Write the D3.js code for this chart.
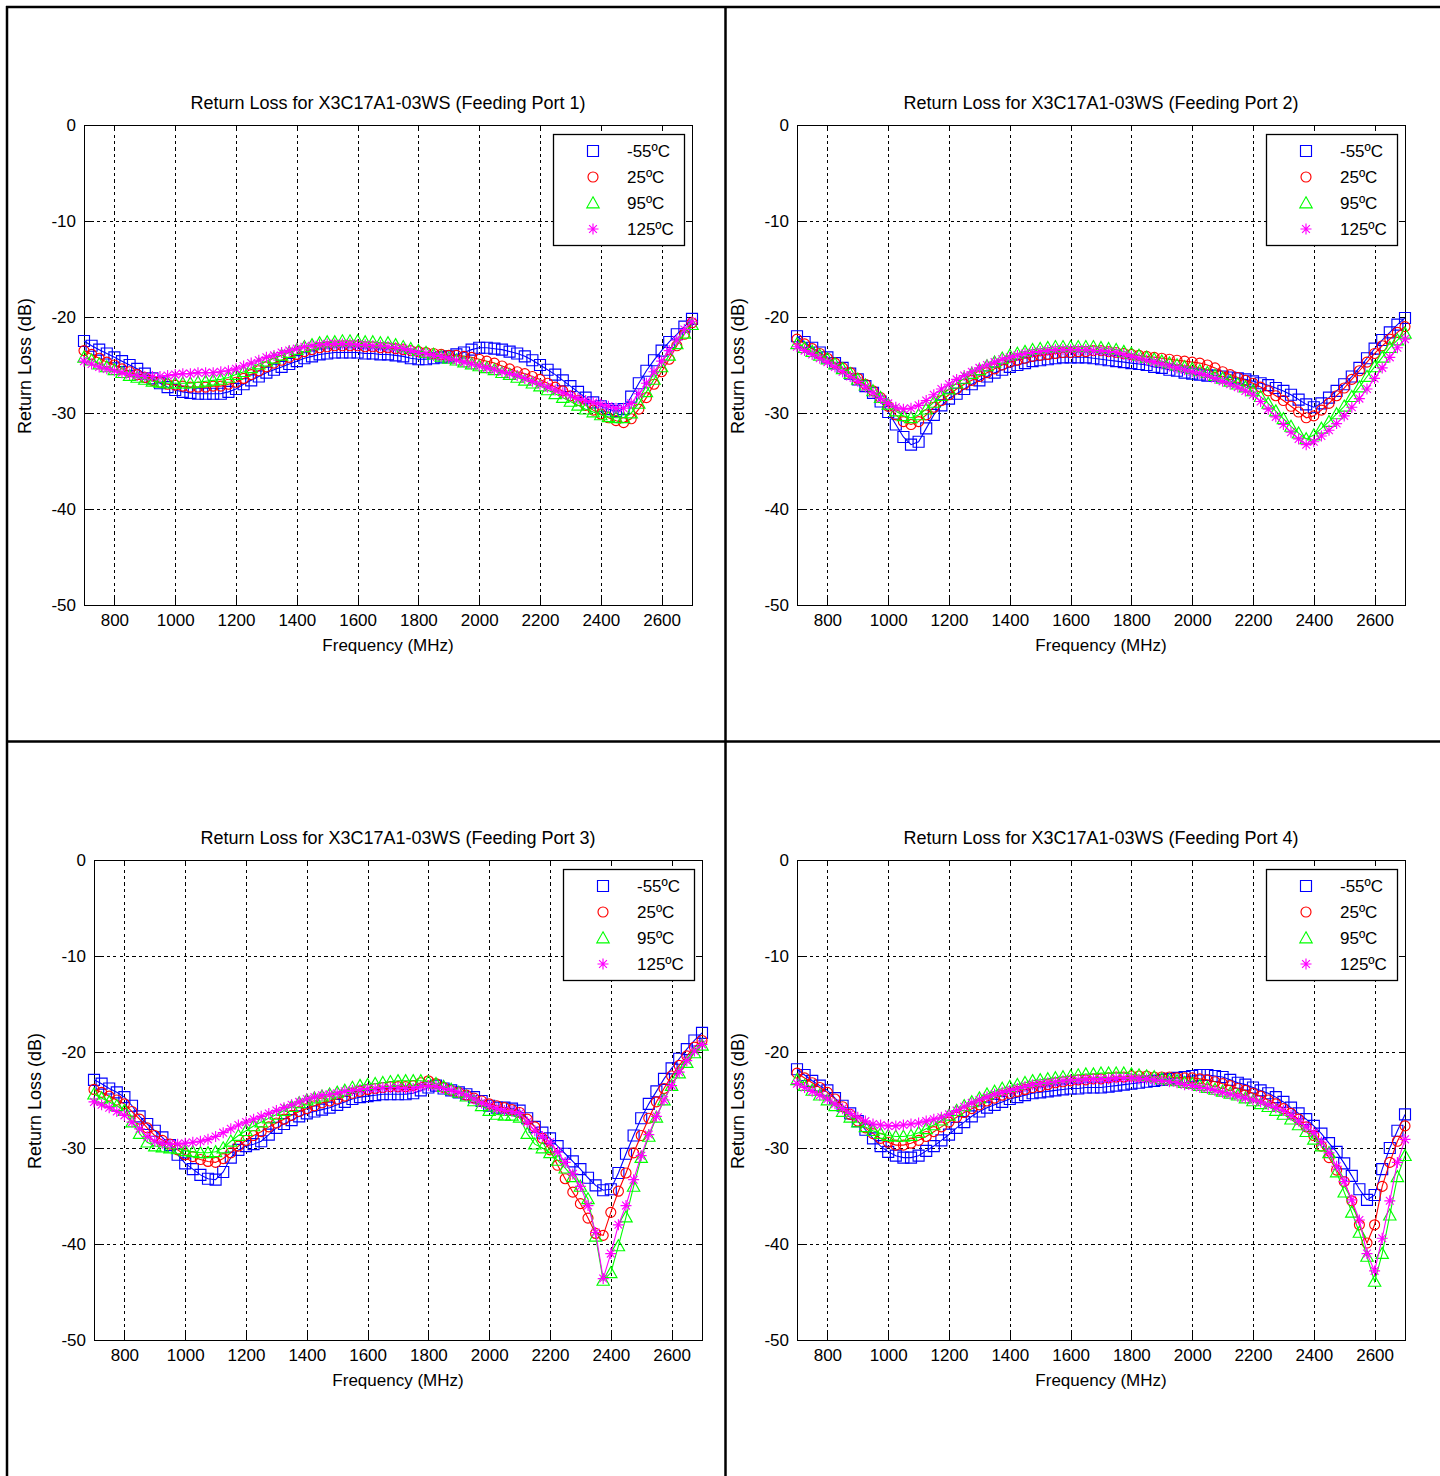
<!DOCTYPE html>
<html>
<head>
<meta charset="utf-8">
<script src="https://cdn.jsdelivr.net/npm/d3@7"></script>
<style>
  html, body { margin: 0; padding: 0; background: #fff; }
  svg { display: block; }
  text { font-family: "Liberation Sans", Arial, sans-serif; fill: #000; }
</style>
</head>
<body>
<svg id="chart" width="1440" height="1476"></svg>
<script>
// ---------------- DATA ----------------
const freqs = d3.range(700, 2701, 25); // MHz, 81 points
const xTicks = [800, 1000, 1200, 1400, 1600, 1800, 2000, 2200, 2400, 2600];
const yTicks = [0, -10, -20, -30, -40, -50];
const legendLabels = ["-55ºC", "25ºC", "95ºC", "125ºC"];
const panelTitles = [
  "Return Loss for X3C17A1-03WS (Feeding Port 1)",
  "Return Loss for X3C17A1-03WS (Feeding Port 2)",
  "Return Loss for X3C17A1-03WS (Feeding Port 3)",
  "Return Loss for X3C17A1-03WS (Feeding Port 4)"
];
const xTitle = "Frequency (MHz)";
const yTitle = "Return Loss (dB)";

// Port 1
const port1_m55 = [
 -22.5,-23.0,-23.4,-23.8,-24.2,-24.6,-25.0,-25.4,-25.9,-26.4,
 -26.9,-27.3,-27.6,-27.8,-27.9,-28.0,-28.0,-28.0,-28.0,-27.8,
 -27.5,-27.0,-26.6,-26.2,-25.8,-25.5,-25.2,-24.9,-24.6,-24.3,
 -24.1,-23.9,-23.8,-23.7,-23.7,-23.7,-23.7,-23.8,-23.8,-23.9,
 -23.9,-24.0,-24.1,-24.3,-24.4,-24.4,-24.3,-24.2,-24.1,-23.9,
 -23.7,-23.4,-23.2,-23.2,-23.3,-23.4,-23.6,-23.8,-24.1,-24.5,
 -25.0,-25.5,-26.0,-26.6,-27.2,-27.8,-28.4,-28.9,-29.3,-29.6,
 -29.8,-29.6,-28.3,-26.9,-25.6,-24.5,-23.5,-22.6,-21.8,-21.0,
 -20.2];
const port1_p25 = [
 -23.5,-23.9,-24.3,-24.7,-25.0,-25.4,-25.7,-26.0,-26.3,-26.6,
 -26.8,-27.0,-27.1,-27.2,-27.3,-27.3,-27.3,-27.2,-27.2,-27.0,
 -26.8,-26.4,-26.0,-25.6,-25.2,-24.8,-24.5,-24.2,-23.9,-23.6,
 -23.4,-23.2,-23.1,-23.0,-23.0,-23.0,-23.0,-23.1,-23.1,-23.2,
 -23.2,-23.3,-23.4,-23.5,-23.6,-23.7,-23.8,-23.9,-24.0,-24.0,
 -24.1,-24.2,-24.4,-24.6,-24.8,-25.1,-25.4,-25.7,-25.9,-26.2,
 -26.5,-26.9,-27.3,-27.7,-28.2,-28.7,-29.2,-29.7,-30.1,-30.5,
 -30.8,-31.0,-30.6,-29.6,-28.4,-27.0,-25.7,-24.4,-23.0,-21.8,
 -20.6];
const port1_p95 = [
 -24.2,-24.5,-24.9,-25.2,-25.5,-25.8,-26.1,-26.3,-26.5,-26.7,
 -26.8,-26.9,-26.9,-26.9,-26.9,-26.8,-26.7,-26.6,-26.5,-26.3,
 -26.0,-25.7,-25.3,-24.9,-24.6,-24.3,-24.0,-23.7,-23.4,-23.1,
 -22.9,-22.7,-22.6,-22.6,-22.5,-22.5,-22.5,-22.6,-22.6,-22.7,
 -22.7,-22.9,-23.1,-23.3,-23.5,-23.7,-23.9,-24.1,-24.3,-24.5,
 -24.7,-24.9,-25.1,-25.3,-25.5,-25.8,-26.0,-26.3,-26.6,-26.9,
 -27.2,-27.6,-28.0,-28.4,-28.8,-29.2,-29.6,-29.9,-30.2,-30.4,
 -30.5,-30.5,-30.0,-29.0,-27.8,-26.5,-25.2,-24.0,-22.8,-21.7,
 -20.8];
const port1_p125 = [
 -24.6,-24.9,-25.2,-25.4,-25.6,-25.8,-26.0,-26.1,-26.2,-26.2,
 -26.2,-26.1,-26.0,-25.9,-25.9,-25.8,-25.8,-25.8,-25.7,-25.6,
 -25.4,-25.1,-24.8,-24.5,-24.2,-24.0,-23.7,-23.5,-23.3,-23.1,
 -23.0,-22.9,-22.8,-22.8,-22.8,-22.8,-22.9,-22.9,-23.0,-23.0,
 -23.1,-23.2,-23.3,-23.5,-23.7,-23.8,-24.0,-24.1,-24.3,-24.5,
 -24.7,-24.9,-25.1,-25.3,-25.5,-25.7,-25.9,-26.1,-26.4,-26.7,
 -27.0,-27.3,-27.6,-27.9,-28.2,-28.5,-28.7,-28.9,-29.1,-29.3,
 -29.5,-29.5,-29.0,-28.0,-26.9,-25.7,-24.6,-23.5,-22.4,-21.3,
 -20.5];

// Port 2
const port2_m55 = [
 -22.0,-22.6,-23.2,-23.7,-24.2,-24.8,-25.3,-25.9,-26.5,-27.2,
 -27.9,-28.8,-29.9,-31.2,-32.5,-33.3,-33.0,-31.6,-30.2,-29.2,
 -28.5,-28.0,-27.5,-27.0,-26.6,-26.2,-25.8,-25.5,-25.2,-25.0,
 -24.8,-24.6,-24.5,-24.4,-24.3,-24.2,-24.2,-24.2,-24.2,-24.3,
 -24.4,-24.5,-24.6,-24.7,-24.8,-24.9,-25.0,-25.2,-25.3,-25.5,
 -25.6,-25.8,-25.9,-26.0,-26.1,-26.1,-26.2,-26.3,-26.4,-26.5,
 -26.7,-26.9,-27.1,-27.4,-27.7,-28.1,-28.6,-29.1,-29.4,-29.0,
 -28.4,-27.7,-27.0,-26.2,-25.3,-24.3,-23.3,-22.4,-21.6,-20.8,
 -20.1];
const port2_p25 = [
 -22.3,-22.8,-23.3,-23.8,-24.3,-24.8,-25.3,-25.8,-26.4,-27.0,
 -27.7,-28.4,-29.3,-30.2,-30.9,-31.2,-30.9,-30.2,-29.4,-28.7,
 -28.1,-27.5,-27.0,-26.6,-26.2,-25.8,-25.4,-25.0,-24.7,-24.5,
 -24.3,-24.1,-24.0,-23.9,-23.8,-23.7,-23.7,-23.6,-23.6,-23.5,
 -23.5,-23.6,-23.7,-23.8,-23.9,-24.0,-24.1,-24.2,-24.3,-24.4,
 -24.5,-24.6,-24.7,-24.8,-25.0,-25.3,-25.7,-26.0,-26.3,-26.6,
 -26.9,-27.3,-27.7,-28.2,-28.7,-29.3,-29.9,-30.5,-30.3,-29.7,
 -29.0,-28.2,-27.4,-26.5,-25.6,-24.7,-23.8,-23.0,-22.3,-21.6,
 -21.0];
const port2_p95 = [
 -22.8,-23.2,-23.6,-24.0,-24.4,-24.9,-25.4,-25.9,-26.5,-27.1,
 -27.7,-28.4,-29.1,-29.8,-30.3,-30.5,-30.2,-29.6,-28.9,-28.2,
 -27.5,-26.9,-26.4,-25.9,-25.5,-25.1,-24.7,-24.3,-24.0,-23.8,
 -23.6,-23.4,-23.3,-23.2,-23.1,-23.1,-23.1,-23.1,-23.1,-23.1,
 -23.2,-23.3,-23.4,-23.6,-23.8,-24.0,-24.2,-24.4,-24.6,-24.8,
 -25.0,-25.2,-25.4,-25.6,-25.8,-26.1,-26.4,-26.7,-27.0,-27.3,
 -27.7,-28.3,-29.0,-29.8,-30.6,-31.4,-32.1,-32.7,-32.3,-31.6,
 -30.9,-30.1,-29.3,-28.3,-27.3,-26.2,-25.2,-24.2,-23.2,-22.4,
 -21.7];
const port2_p125 = [
 -23.1,-23.5,-23.9,-24.3,-24.7,-25.2,-25.7,-26.2,-26.7,-27.3,
 -27.9,-28.5,-29.0,-29.4,-29.6,-29.5,-29.2,-28.7,-28.1,-27.5,
 -27.0,-26.5,-26.1,-25.7,-25.3,-25.0,-24.7,-24.4,-24.2,-24.0,
 -23.8,-23.7,-23.6,-23.5,-23.4,-23.4,-23.4,-23.4,-23.4,-23.5,
 -23.5,-23.6,-23.7,-23.9,-24.1,-24.3,-24.5,-24.7,-24.9,-25.1,
 -25.3,-25.5,-25.7,-25.9,-26.1,-26.4,-26.7,-27.0,-27.3,-27.7,
 -28.1,-28.8,-29.6,-30.4,-31.2,-32.0,-32.7,-33.3,-33.0,-32.4,
 -31.8,-31.1,-30.3,-29.4,-28.5,-27.5,-26.4,-25.3,-24.2,-23.2,
 -22.3];

// Port 3
const port3_m55 = [
 -22.9,-23.3,-23.8,-24.2,-24.7,-25.6,-26.7,-27.5,-28.2,-28.9,
 -29.7,-30.7,-31.6,-32.2,-32.8,-33.2,-33.3,-32.5,-31.0,-30.2,
 -29.8,-29.6,-29.3,-28.6,-27.9,-27.5,-27.1,-26.7,-26.4,-26.2,
 -26.0,-25.8,-25.5,-25.2,-24.9,-24.7,-24.6,-24.5,-24.4,-24.4,
 -24.4,-24.4,-24.3,-24.0,-23.7,-23.5,-23.8,-24.0,-24.2,-24.4,
 -24.7,-25.1,-25.6,-25.8,-25.8,-25.9,-26.1,-26.9,-27.8,-28.4,
 -29.0,-29.8,-30.6,-31.4,-32.2,-33.1,-33.9,-34.4,-34.3,-32.6,
 -30.6,-28.7,-26.9,-25.4,-24.1,-22.8,-21.7,-20.7,-19.7,-18.8,
 -18.0];
const port3_p25 = [
 -23.9,-24.2,-24.6,-25.0,-25.4,-26.2,-27.0,-27.9,-28.7,-29.2,
 -29.6,-30.2,-30.7,-30.9,-31.2,-31.4,-31.5,-31.1,-30.5,-29.8,
 -29.2,-28.7,-28.3,-27.8,-27.4,-27.0,-26.6,-26.2,-25.9,-25.6,
 -25.3,-25.1,-24.9,-24.6,-24.3,-24.1,-23.9,-23.8,-23.7,-23.6,
 -23.6,-23.6,-23.5,-23.2,-23.0,-23.3,-23.7,-24.0,-24.2,-24.5,
 -24.8,-25.1,-25.4,-25.6,-25.8,-26.0,-26.3,-27.0,-27.8,-29.0,
 -30.2,-31.8,-33.2,-34.6,-35.8,-37.3,-38.9,-39.1,-36.7,-34.5,
 -32.6,-30.5,-28.7,-26.9,-25.2,-23.8,-22.5,-21.4,-20.4,-19.5,
 -18.8];
const port3_p95 = [
 -24.4,-24.8,-25.2,-25.6,-26.1,-27.3,-28.5,-29.4,-29.8,-29.9,
 -30.0,-30.1,-30.3,-30.4,-30.5,-30.5,-30.4,-30.0,-29.3,-28.7,
 -28.2,-27.7,-27.3,-26.9,-26.5,-26.1,-25.7,-25.3,-25.0,-24.8,
 -24.6,-24.4,-24.2,-24.0,-23.7,-23.5,-23.4,-23.3,-23.2,-23.1,
 -23.0,-23.0,-23.0,-23.0,-23.1,-23.3,-23.6,-23.9,-24.2,-24.6,
 -25.1,-25.6,-26.1,-26.5,-26.6,-26.6,-26.8,-28.5,-29.6,-30.0,
 -30.5,-31.3,-32.1,-33.0,-34.0,-35.3,-39.2,-43.8,-43.0,-40.2,
 -37.2,-34.0,-31.0,-28.8,-26.8,-25.0,-23.5,-22.2,-21.1,-20.1,
 -19.3];
const port3_p125 = [
 -25.2,-25.5,-25.8,-26.2,-26.6,-27.3,-28.0,-28.8,-29.3,-29.5,
 -29.6,-29.6,-29.5,-29.4,-29.3,-29.1,-28.8,-28.4,-28.0,-27.6,
 -27.3,-27.0,-26.7,-26.4,-26.1,-25.8,-25.5,-25.2,-24.9,-24.7,
 -24.5,-24.4,-24.3,-24.1,-24.0,-23.9,-23.8,-23.8,-23.7,-23.7,
 -23.7,-23.8,-23.8,-23.6,-23.5,-23.6,-23.8,-24.0,-24.2,-24.5,
 -24.9,-25.3,-25.6,-25.9,-26.1,-26.2,-26.4,-27.3,-28.2,-28.8,
 -29.4,-30.4,-31.5,-32.7,-34.0,-36.0,-38.8,-43.6,-41.0,-38.0,
 -36.0,-33.3,-30.8,-28.6,-26.7,-25.0,-23.5,-22.1,-20.9,-19.9,
 -19.2];

// Port 4
const port4_m55 = [
 -21.8,-22.4,-23.0,-23.5,-24.0,-24.8,-25.6,-26.4,-27.2,-28.1,
 -29.0,-29.8,-30.4,-30.8,-31.0,-31.0,-30.8,-30.3,-29.8,-29.2,
 -28.6,-27.9,-27.3,-26.7,-26.2,-25.8,-25.5,-25.2,-24.9,-24.7,
 -24.5,-24.3,-24.2,-24.1,-24.0,-23.9,-23.8,-23.8,-23.7,-23.7,
 -23.7,-23.6,-23.5,-23.4,-23.3,-23.2,-23.1,-23.0,-22.9,-22.8,
 -22.7,-22.6,-22.5,-22.4,-22.4,-22.5,-22.6,-22.9,-23.2,-23.4,
 -23.7,-24.0,-24.3,-24.7,-25.2,-25.8,-26.4,-27.0,-27.7,-28.5,
 -29.5,-30.4,-31.6,-32.9,-34.3,-35.4,-34.9,-32.2,-30.0,-28.2,
 -26.5];
const port4_p25 = [
 -22.2,-22.7,-23.2,-23.7,-24.2,-24.9,-25.7,-26.5,-27.2,-27.9,
 -28.5,-29.0,-29.4,-29.7,-29.7,-29.5,-29.2,-28.8,-28.3,-27.8,
 -27.3,-26.8,-26.3,-25.9,-25.5,-25.1,-24.8,-24.5,-24.3,-24.1,
 -23.9,-23.7,-23.6,-23.4,-23.2,-23.1,-23.0,-22.9,-22.9,-22.8,
 -22.8,-22.7,-22.6,-22.6,-22.5,-22.5,-22.5,-22.6,-22.6,-22.6,
 -22.7,-22.7,-22.7,-22.8,-22.9,-23.1,-23.3,-23.5,-23.8,-24.0,
 -24.3,-24.6,-25.0,-25.4,-25.9,-26.4,-27.0,-27.8,-28.7,-29.8,
 -31.0,-32.3,-33.5,-35.5,-38.0,-39.9,-38.0,-34.0,-31.5,-29.3,
 -27.7];
const port4_p95 = [
 -22.9,-23.5,-24.0,-24.5,-25.0,-25.6,-26.2,-26.8,-27.3,-27.8,
 -28.2,-28.5,-28.7,-28.8,-28.8,-28.7,-28.4,-28.0,-27.6,-27.1,
 -26.6,-26.1,-25.6,-25.2,-24.8,-24.4,-24.1,-23.8,-23.6,-23.4,
 -23.2,-23.0,-22.9,-22.8,-22.7,-22.6,-22.5,-22.4,-22.3,-22.3,
 -22.2,-22.2,-22.2,-22.2,-22.3,-22.4,-22.5,-22.6,-22.8,-22.9,
 -23.0,-23.2,-23.3,-23.5,-23.7,-23.9,-24.1,-24.3,-24.5,-24.8,
 -25.1,-25.4,-25.7,-26.1,-26.5,-27.0,-27.6,-28.3,-29.1,-29.8,
 -30.5,-32.5,-34.6,-36.7,-38.8,-41.3,-43.9,-41.0,-37.0,-33.0,
 -30.8];
const port4_p125 = [
 -23.3,-23.7,-24.1,-24.5,-24.9,-25.4,-25.9,-26.4,-26.8,-27.2,
 -27.5,-27.6,-27.7,-27.7,-27.6,-27.5,-27.4,-27.2,-27.0,-26.8,
 -26.5,-26.1,-25.7,-25.3,-25.0,-24.7,-24.4,-24.2,-24.0,-23.8,
 -23.6,-23.4,-23.3,-23.2,-23.1,-23.0,-22.9,-22.9,-22.8,-22.8,
 -22.8,-22.8,-22.7,-22.7,-22.7,-22.8,-22.8,-22.9,-23.0,-23.1,
 -23.2,-23.4,-23.5,-23.7,-23.8,-24.0,-24.2,-24.4,-24.6,-24.8,
 -25.0,-25.2,-25.5,-25.8,-26.1,-26.6,-27.2,-27.8,-28.4,-29.4,
 -30.5,-31.9,-33.5,-35.4,-37.5,-41.0,-42.8,-39.4,-35.5,-31.5,
 -29.1];

// ---------------- LAYOUT / STYLE ----------------
const seriesStyle = [
  { color: "#0000ff", shape: "square" },
  { color: "#ff0000", shape: "circle" },
  { color: "#00ff00", shape: "triangle" },
  { color: "#ff00ff", shape: "star" }
];
const panels = [
  { title: panelTitles[0], series: [port1_m55, port1_p25, port1_p95, port1_p125], left: 84,  top: 125, ylabX: 31 },
  { title: panelTitles[1], series: [port2_m55, port2_p25, port2_p95, port2_p125], left: 797, top: 125, ylabX: 744 },
  { title: panelTitles[2], series: [port3_m55, port3_p25, port3_p95, port3_p125], left: 94,  top: 860, ylabX: 41 },
  { title: panelTitles[3], series: [port4_m55, port4_p25, port4_p95, port4_p125], left: 797, top: 860, ylabX: 744 }
];
const PW = 608, PH = 480;
const FONT = 17;

const svg = d3.select("#chart");

// outer table frame
const frame = svg.append("g").attr("stroke", "#000").attr("stroke-width", 2.5);
frame.append("line").attr("x1", 6).attr("x2", 1440).attr("y1", 7).attr("y2", 7);
frame.append("line").attr("x1", 7).attr("x2", 7).attr("y1", 6).attr("y2", 1476);
frame.append("line").attr("x1", 725.5).attr("x2", 725.5).attr("y1", 6).attr("y2", 1476);
frame.append("line").attr("x1", 6).attr("x2", 1440).attr("y1", 741.5).attr("y2", 741.5);

function markerPath(shape) {
  switch (shape) {
    case "square": return "M-5.5,-5.5H5.5V5.5H-5.5Z";
    case "circle": return "M5,0A5,5 0 1,1 -5,0A5,5 0 1,1 5,0Z";
    case "triangle": return "M0,-6.2L6.2,4.8H-6.2Z";
    case "star": return "M0,-5.5V5.5M-5.5,0H5.5M-3.9,-3.9L3.9,3.9M-3.9,3.9L3.9,-3.9";
  }
}

panels.forEach(p => {
  const g = svg.append("g");
  const x = d3.scaleLinear().domain([700, 2700]).range([p.left, p.left + PW]);
  const y = d3.scaleLinear().domain([-50, 0]).range([p.top + PH, p.top]);

  // grid (dashed) through axes
  const gridX = g.append("g").attr("transform", `translate(0,${p.top + PH})`)
    .call(d3.axisBottom(x).tickValues(xTicks).tickSizeInner(-PH).tickSizeOuter(0).tickFormat(""));
  gridX.select(".domain").remove();
  gridX.selectAll(".tick line").attr("stroke", "#000").attr("stroke-dasharray", "3.2,3.2").attr("shape-rendering", "crispEdges");
  const gridY = g.append("g").attr("transform", `translate(${p.left},0)`)
    .call(d3.axisLeft(y).tickValues(yTicks.filter(v => v !== 0 && v !== -50)).tickSizeInner(-PW).tickSizeOuter(0).tickFormat(""));
  gridY.select(".domain").remove();
  gridY.selectAll(".tick line").attr("stroke", "#000").attr("stroke-dasharray", "3.2,3.2").attr("shape-rendering", "crispEdges");

  // box axes with inward ticks
  const styleAxis = sel => {
    sel.select(".domain").attr("stroke", "#000").attr("stroke-width", 1.3).attr("shape-rendering", "crispEdges");
    sel.selectAll(".tick line").attr("stroke", "#000").attr("stroke-width", 1).attr("shape-rendering", "crispEdges");
    sel.selectAll("text").attr("font-size", FONT).attr("font-family", '"Liberation Sans", Arial, sans-serif').attr("fill", "#000");
    sel.attr("font-family", null).attr("font-size", null);
  };
  g.append("g").attr("transform", `translate(0,${p.top + PH})`)
    .call(d3.axisBottom(x).tickValues(xTicks).tickSizeInner(-6).tickSizeOuter(0).tickPadding(9).tickFormat(d3.format("d")))
    .call(styleAxis);
  g.append("g").attr("transform", `translate(0,${p.top})`)
    .call(d3.axisTop(x).tickValues(xTicks).tickSizeInner(-6).tickSizeOuter(0).tickFormat(""))
    .call(styleAxis);
  g.append("g").attr("transform", `translate(${p.left},0)`)
    .call(d3.axisLeft(y).tickValues(yTicks).tickSizeInner(-6).tickSizeOuter(0).tickPadding(8).tickFormat(d => String(d)))
    .call(styleAxis);
  g.append("g").attr("transform", `translate(${p.left + PW},0)`)
    .call(d3.axisRight(y).tickValues(yTicks).tickSizeInner(-6).tickSizeOuter(0).tickFormat(""))
    .call(styleAxis);

  // titles
  g.append("text").attr("x", p.left + PW / 2).attr("y", p.top - 16)
    .attr("text-anchor", "middle").attr("font-size", 18).text(p.title);
  g.append("text").attr("x", p.left + PW / 2).attr("y", p.top + PH + 46)
    .attr("text-anchor", "middle").attr("font-size", FONT).text(xTitle);
  g.append("text").attr("transform", `translate(${p.ylabX},${p.top + 241}) rotate(-90)`)
    .attr("text-anchor", "middle").attr("font-size", 18).text(yTitle);

  // series
  const line = d3.line().x((d, i) => x(freqs[i])).y(d => y(d));
  p.series.forEach((vals, si) => {
    const st = seriesStyle[si];
    const sg = g.append("g");
    sg.append("path").datum(vals).attr("d", line)
      .attr("fill", "none").attr("stroke", st.color).attr("stroke-width", 1.1);
    sg.selectAll("path.m").data(vals).join("path").attr("class", "m")
      .attr("transform", (d, i) => `translate(${x(freqs[i])},${y(d)})`)
      .attr("d", markerPath(st.shape))
      .attr("fill", "none").attr("stroke", st.color).attr("stroke-width", 1.15);
  });

  // legend
  const lw = 131, lh = 111;
  const lx = p.left + PW - 8 - lw, ly = p.top + 9;
  const lg = g.append("g");
  lg.append("rect").attr("x", lx + 0.5).attr("y", ly + 0.5).attr("width", lw).attr("height", lh)
    .attr("fill", "#fff").attr("stroke", "#000").attr("stroke-width", 1.3);
  legendLabels.forEach((lab, i) => {
    const cy = ly + 17 + i * 26;
    lg.append("path").attr("transform", `translate(${lx + 40},${cy})`)
      .attr("d", markerPath(seriesStyle[i].shape))
      .attr("fill", "none").attr("stroke", seriesStyle[i].color).attr("stroke-width", 1.15);
    lg.append("text").attr("x", lx + 74).attr("y", cy).attr("dy", "0.35em")
      .attr("font-size", FONT).text(lab);
  });
});
</script>
</body>
</html>
